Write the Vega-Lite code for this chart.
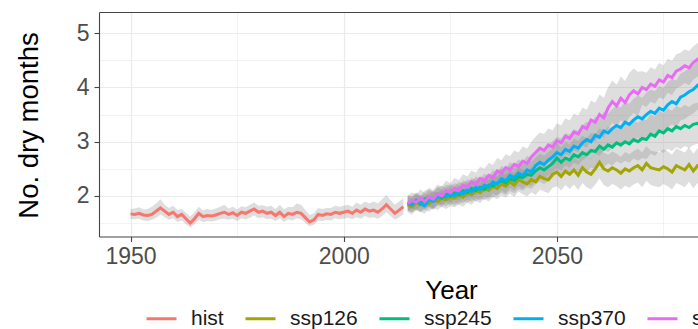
{
"$schema": "https://vega.github.io/schema/vega-lite/v6.json",
"width": 599, "height": 224.5,
"autosize": {"type": "none"},
"padding": {"left": 99, "top": 12, "right": 0, "bottom": 92.5},
"background": "white",
"config": {"view": {"stroke": null}, "font": "Liberation Sans"},
"datasets": {"d": [
{"s":"hist","t":1950,"v":1.67,"lo":1.58,"hi":1.76},{"s":"hist","t":1951,"v":1.66,"lo":1.57,"hi":1.77},{"s":"hist","t":1952,"v":1.68,"lo":1.58,"hi":1.79},{"s":"hist","t":1953,"v":1.65,"lo":1.55,"hi":1.75},{"s":"hist","t":1954,"v":1.64,"lo":1.54,"hi":1.76},{"s":"hist","t":1955,"v":1.66,"lo":1.56,"hi":1.80},{"s":"hist","t":1956,"v":1.72,"lo":1.60,"hi":1.86},{"s":"hist","t":1957,"v":1.78,"lo":1.66,"hi":1.94},{"s":"hist","t":1958,"v":1.72,"lo":1.61,"hi":1.84},{"s":"hist","t":1959,"v":1.66,"lo":1.56,"hi":1.78},
{"s":"hist","t":1960,"v":1.70,"lo":1.59,"hi":1.82},{"s":"hist","t":1961,"v":1.62,"lo":1.52,"hi":1.74},{"s":"hist","t":1962,"v":1.66,"lo":1.55,"hi":1.76},{"s":"hist","t":1963,"v":1.58,"lo":1.48,"hi":1.69},{"s":"hist","t":1964,"v":1.50,"lo":1.42,"hi":1.62},{"s":"hist","t":1965,"v":1.58,"lo":1.48,"hi":1.70},{"s":"hist","t":1966,"v":1.68,"lo":1.56,"hi":1.80},{"s":"hist","t":1967,"v":1.62,"lo":1.52,"hi":1.73},{"s":"hist","t":1968,"v":1.64,"lo":1.54,"hi":1.76},{"s":"hist","t":1969,"v":1.63,"lo":1.53,"hi":1.74},
{"s":"hist","t":1970,"v":1.65,"lo":1.55,"hi":1.77},{"s":"hist","t":1971,"v":1.68,"lo":1.57,"hi":1.80},{"s":"hist","t":1972,"v":1.70,"lo":1.58,"hi":1.84},{"s":"hist","t":1973,"v":1.66,"lo":1.56,"hi":1.77},{"s":"hist","t":1974,"v":1.69,"lo":1.58,"hi":1.80},{"s":"hist","t":1975,"v":1.64,"lo":1.54,"hi":1.75},{"s":"hist","t":1976,"v":1.70,"lo":1.59,"hi":1.81},{"s":"hist","t":1977,"v":1.68,"lo":1.57,"hi":1.79},{"s":"hist","t":1978,"v":1.72,"lo":1.60,"hi":1.84},{"s":"hist","t":1979,"v":1.76,"lo":1.64,"hi":1.88},
{"s":"hist","t":1980,"v":1.70,"lo":1.59,"hi":1.82},{"s":"hist","t":1981,"v":1.72,"lo":1.61,"hi":1.83},{"s":"hist","t":1982,"v":1.68,"lo":1.57,"hi":1.80},{"s":"hist","t":1983,"v":1.70,"lo":1.58,"hi":1.82},{"s":"hist","t":1984,"v":1.64,"lo":1.54,"hi":1.76},{"s":"hist","t":1985,"v":1.70,"lo":1.59,"hi":1.84},{"s":"hist","t":1986,"v":1.62,"lo":1.52,"hi":1.75},{"s":"hist","t":1987,"v":1.68,"lo":1.57,"hi":1.80},{"s":"hist","t":1988,"v":1.66,"lo":1.55,"hi":1.79},{"s":"hist","t":1989,"v":1.70,"lo":1.59,"hi":1.86},
{"s":"hist","t":1990,"v":1.68,"lo":1.57,"hi":1.84},{"s":"hist","t":1991,"v":1.60,"lo":1.50,"hi":1.74},{"s":"hist","t":1992,"v":1.52,"lo":1.44,"hi":1.65},{"s":"hist","t":1993,"v":1.56,"lo":1.47,"hi":1.68},{"s":"hist","t":1994,"v":1.66,"lo":1.55,"hi":1.78},{"s":"hist","t":1995,"v":1.64,"lo":1.54,"hi":1.76},{"s":"hist","t":1996,"v":1.67,"lo":1.56,"hi":1.78},{"s":"hist","t":1997,"v":1.66,"lo":1.55,"hi":1.78},{"s":"hist","t":1998,"v":1.70,"lo":1.59,"hi":1.82},{"s":"hist","t":1999,"v":1.68,"lo":1.57,"hi":1.80},
{"s":"hist","t":2000,"v":1.70,"lo":1.58,"hi":1.82},{"s":"hist","t":2001,"v":1.72,"lo":1.60,"hi":1.84},{"s":"hist","t":2002,"v":1.68,"lo":1.57,"hi":1.80},{"s":"hist","t":2003,"v":1.74,"lo":1.61,"hi":1.88},{"s":"hist","t":2004,"v":1.70,"lo":1.58,"hi":1.84},{"s":"hist","t":2005,"v":1.76,"lo":1.63,"hi":1.90},{"s":"hist","t":2006,"v":1.72,"lo":1.60,"hi":1.86},{"s":"hist","t":2007,"v":1.74,"lo":1.61,"hi":1.90},{"s":"hist","t":2008,"v":1.70,"lo":1.58,"hi":1.86},{"s":"hist","t":2009,"v":1.76,"lo":1.63,"hi":1.94},
{"s":"hist","t":2010,"v":1.84,"lo":1.70,"hi":2.02},{"s":"hist","t":2011,"v":1.76,"lo":1.63,"hi":1.92},{"s":"hist","t":2012,"v":1.68,"lo":1.56,"hi":1.84},{"s":"hist","t":2013,"v":1.74,"lo":1.61,"hi":1.90},{"s":"hist","t":2014,"v":1.80,"lo":1.66,"hi":1.96},

{"s":"ssp126","t":2015,"v":1.84,"lo":1.70,"hi":1.98},{"s":"ssp126","t":2016,"v":1.80,"lo":1.66,"hi":1.95},{"s":"ssp126","t":2017,"v":1.88,"lo":1.73,"hi":2.02},{"s":"ssp126","t":2018,"v":1.84,"lo":1.70,"hi":1.99},{"s":"ssp126","t":2019,"v":1.90,"lo":1.75,"hi":2.05},{"s":"ssp126","t":2020,"v":1.86,"lo":1.71,"hi":2.02},{"s":"ssp126","t":2021,"v":1.94,"lo":1.78,"hi":2.09},{"s":"ssp126","t":2022,"v":1.90,"lo":1.74,"hi":2.06},{"s":"ssp126","t":2023,"v":1.96,"lo":1.80,"hi":2.12},{"s":"ssp126","t":2024,"v":1.93,"lo":1.76,"hi":2.09},
{"s":"ssp126","t":2025,"v":1.98,"lo":1.81,"hi":2.15},{"s":"ssp126","t":2026,"v":1.96,"lo":1.79,"hi":2.13},{"s":"ssp126","t":2027,"v":2.02,"lo":1.84,"hi":2.19},{"s":"ssp126","t":2028,"v":1.98,"lo":1.80,"hi":2.16},{"s":"ssp126","t":2029,"v":2.06,"lo":1.88,"hi":2.24},{"s":"ssp126","t":2030,"v":2.02,"lo":1.84,"hi":2.20},{"s":"ssp126","t":2031,"v":2.10,"lo":1.91,"hi":2.28},{"s":"ssp126","t":2032,"v":2.06,"lo":1.87,"hi":2.25},{"s":"ssp126","t":2033,"v":2.14,"lo":1.95,"hi":2.33},{"s":"ssp126","t":2034,"v":2.10,"lo":1.90,"hi":2.30},
{"s":"ssp126","t":2035,"v":2.18,"lo":1.98,"hi":2.38},{"s":"ssp126","t":2036,"v":2.14,"lo":1.94,"hi":2.35},{"s":"ssp126","t":2037,"v":2.22,"lo":2.01,"hi":2.43},{"s":"ssp126","t":2038,"v":2.18,"lo":1.97,"hi":2.39},{"s":"ssp126","t":2039,"v":2.26,"lo":2.04,"hi":2.47},{"s":"ssp126","t":2040,"v":2.20,"lo":1.98,"hi":2.42},{"s":"ssp126","t":2041,"v":2.30,"lo":2.08,"hi":2.52},{"s":"ssp126","t":2042,"v":2.26,"lo":2.03,"hi":2.48},{"s":"ssp126","t":2043,"v":2.22,"lo":1.99,"hi":2.45},{"s":"ssp126","t":2044,"v":2.30,"lo":2.07,"hi":2.53},
{"s":"ssp126","t":2045,"v":2.26,"lo":2.02,"hi":2.49},{"s":"ssp126","t":2046,"v":2.36,"lo":2.12,"hi":2.60},{"s":"ssp126","t":2047,"v":2.32,"lo":2.08,"hi":2.56},{"s":"ssp126","t":2048,"v":2.30,"lo":2.05,"hi":2.55},{"s":"ssp126","t":2049,"v":2.40,"lo":2.15,"hi":2.65},{"s":"ssp126","t":2050,"v":2.44,"lo":2.18,"hi":2.70},{"s":"ssp126","t":2051,"v":2.36,"lo":2.10,"hi":2.62},{"s":"ssp126","t":2052,"v":2.46,"lo":2.20,"hi":2.72},{"s":"ssp126","t":2053,"v":2.40,"lo":2.13,"hi":2.67},{"s":"ssp126","t":2054,"v":2.48,"lo":2.21,"hi":2.75},
{"s":"ssp126","t":2055,"v":2.38,"lo":2.11,"hi":2.65},{"s":"ssp126","t":2056,"v":2.52,"lo":2.24,"hi":2.80},{"s":"ssp126","t":2057,"v":2.44,"lo":2.16,"hi":2.72},{"s":"ssp126","t":2058,"v":2.40,"lo":2.12,"hi":2.68},{"s":"ssp126","t":2059,"v":2.50,"lo":2.21,"hi":2.79},{"s":"ssp126","t":2060,"v":2.62,"lo":2.32,"hi":2.92},{"s":"ssp126","t":2061,"v":2.50,"lo":2.20,"hi":2.80},{"s":"ssp126","t":2062,"v":2.46,"lo":2.16,"hi":2.76},{"s":"ssp126","t":2063,"v":2.52,"lo":2.22,"hi":2.82},{"s":"ssp126","t":2064,"v":2.48,"lo":2.18,"hi":2.78},
{"s":"ssp126","t":2065,"v":2.42,"lo":2.12,"hi":2.72},{"s":"ssp126","t":2066,"v":2.50,"lo":2.19,"hi":2.81},{"s":"ssp126","t":2067,"v":2.46,"lo":2.15,"hi":2.77},{"s":"ssp126","t":2068,"v":2.52,"lo":2.21,"hi":2.83},{"s":"ssp126","t":2069,"v":2.56,"lo":2.25,"hi":2.87},{"s":"ssp126","t":2070,"v":2.48,"lo":2.16,"hi":2.80},{"s":"ssp126","t":2071,"v":2.60,"lo":2.28,"hi":2.92},{"s":"ssp126","t":2072,"v":2.52,"lo":2.20,"hi":2.84},{"s":"ssp126","t":2073,"v":2.50,"lo":2.18,"hi":2.82},{"s":"ssp126","t":2074,"v":2.48,"lo":2.16,"hi":2.80},
{"s":"ssp126","t":2075,"v":2.54,"lo":2.22,"hi":2.86},{"s":"ssp126","t":2076,"v":2.50,"lo":2.18,"hi":2.82},{"s":"ssp126","t":2077,"v":2.44,"lo":2.12,"hi":2.76},{"s":"ssp126","t":2078,"v":2.56,"lo":2.24,"hi":2.88},{"s":"ssp126","t":2079,"v":2.52,"lo":2.20,"hi":2.84},{"s":"ssp126","t":2080,"v":2.48,"lo":2.16,"hi":2.80},{"s":"ssp126","t":2081,"v":2.58,"lo":2.26,"hi":2.90},{"s":"ssp126","t":2082,"v":2.46,"lo":2.14,"hi":2.78},{"s":"ssp126","t":2083,"v":2.56,"lo":2.24,"hi":2.88},{"s":"ssp126","t":2084,"v":2.52,"lo":2.20,"hi":2.84},{"s":"ssp126","t":2085,"v":2.54,"lo":2.22,"hi":2.86},

{"s":"ssp245","t":2015,"v":1.86,"lo":1.72,"hi":2.00},{"s":"ssp245","t":2016,"v":1.84,"lo":1.70,"hi":1.99},{"s":"ssp245","t":2017,"v":1.90,"lo":1.75,"hi":2.05},{"s":"ssp245","t":2018,"v":1.86,"lo":1.71,"hi":2.01},{"s":"ssp245","t":2019,"v":1.94,"lo":1.79,"hi":2.10},{"s":"ssp245","t":2020,"v":1.96,"lo":1.80,"hi":2.12},{"s":"ssp245","t":2021,"v":1.92,"lo":1.76,"hi":2.08},{"s":"ssp245","t":2022,"v":2.00,"lo":1.84,"hi":2.17},{"s":"ssp245","t":2023,"v":1.96,"lo":1.79,"hi":2.13},{"s":"ssp245","t":2024,"v":2.04,"lo":1.87,"hi":2.21},
{"s":"ssp245","t":2025,"v":2.00,"lo":1.83,"hi":2.18},{"s":"ssp245","t":2026,"v":2.06,"lo":1.88,"hi":2.24},{"s":"ssp245","t":2027,"v":2.02,"lo":1.84,"hi":2.20},{"s":"ssp245","t":2028,"v":2.10,"lo":1.92,"hi":2.29},{"s":"ssp245","t":2029,"v":2.06,"lo":1.87,"hi":2.25},{"s":"ssp245","t":2030,"v":2.14,"lo":1.95,"hi":2.33},{"s":"ssp245","t":2031,"v":2.10,"lo":1.90,"hi":2.30},{"s":"ssp245","t":2032,"v":2.16,"lo":1.96,"hi":2.36},{"s":"ssp245","t":2033,"v":2.12,"lo":1.92,"hi":2.33},{"s":"ssp245","t":2034,"v":2.20,"lo":1.99,"hi":2.41},
{"s":"ssp245","t":2035,"v":2.18,"lo":1.97,"hi":2.39},{"s":"ssp245","t":2036,"v":2.24,"lo":2.02,"hi":2.46},{"s":"ssp245","t":2037,"v":2.28,"lo":2.06,"hi":2.50},{"s":"ssp245","t":2038,"v":2.24,"lo":2.02,"hi":2.47},{"s":"ssp245","t":2039,"v":2.32,"lo":2.09,"hi":2.55},{"s":"ssp245","t":2040,"v":2.28,"lo":2.05,"hi":2.51},{"s":"ssp245","t":2041,"v":2.36,"lo":2.12,"hi":2.60},{"s":"ssp245","t":2042,"v":2.34,"lo":2.10,"hi":2.58},{"s":"ssp245","t":2043,"v":2.40,"lo":2.16,"hi":2.65},{"s":"ssp245","t":2044,"v":2.38,"lo":2.13,"hi":2.63},
{"s":"ssp245","t":2045,"v":2.46,"lo":2.21,"hi":2.71},{"s":"ssp245","t":2046,"v":2.52,"lo":2.26,"hi":2.78},{"s":"ssp245","t":2047,"v":2.48,"lo":2.22,"hi":2.74},{"s":"ssp245","t":2048,"v":2.54,"lo":2.27,"hi":2.81},{"s":"ssp245","t":2049,"v":2.60,"lo":2.33,"hi":2.87},{"s":"ssp245","t":2050,"v":2.70,"lo":2.42,"hi":2.98},{"s":"ssp245","t":2051,"v":2.62,"lo":2.34,"hi":2.90},{"s":"ssp245","t":2052,"v":2.70,"lo":2.41,"hi":2.99},{"s":"ssp245","t":2053,"v":2.66,"lo":2.37,"hi":2.95},{"s":"ssp245","t":2054,"v":2.76,"lo":2.46,"hi":3.06},
{"s":"ssp245","t":2055,"v":2.72,"lo":2.42,"hi":3.02},{"s":"ssp245","t":2056,"v":2.80,"lo":2.49,"hi":3.11},{"s":"ssp245","t":2057,"v":2.76,"lo":2.45,"hi":3.07},{"s":"ssp245","t":2058,"v":2.84,"lo":2.52,"hi":3.16},{"s":"ssp245","t":2059,"v":2.82,"lo":2.50,"hi":3.14},{"s":"ssp245","t":2060,"v":2.92,"lo":2.59,"hi":3.25},{"s":"ssp245","t":2061,"v":2.86,"lo":2.53,"hi":3.19},{"s":"ssp245","t":2062,"v":2.94,"lo":2.60,"hi":3.28},{"s":"ssp245","t":2063,"v":2.90,"lo":2.56,"hi":3.24},{"s":"ssp245","t":2064,"v":2.98,"lo":2.64,"hi":3.32},
{"s":"ssp245","t":2065,"v":2.94,"lo":2.60,"hi":3.28},{"s":"ssp245","t":2066,"v":3.00,"lo":2.65,"hi":3.35},{"s":"ssp245","t":2067,"v":2.96,"lo":2.61,"hi":3.31},{"s":"ssp245","t":2068,"v":3.04,"lo":2.69,"hi":3.39},{"s":"ssp245","t":2069,"v":3.00,"lo":2.65,"hi":3.35},{"s":"ssp245","t":2070,"v":3.06,"lo":2.70,"hi":3.42},{"s":"ssp245","t":2071,"v":3.04,"lo":2.68,"hi":3.40},{"s":"ssp245","t":2072,"v":3.14,"lo":2.78,"hi":3.50},{"s":"ssp245","t":2073,"v":3.10,"lo":2.74,"hi":3.46},{"s":"ssp245","t":2074,"v":3.20,"lo":2.83,"hi":3.57},
{"s":"ssp245","t":2075,"v":3.16,"lo":2.79,"hi":3.53},{"s":"ssp245","t":2076,"v":3.24,"lo":2.87,"hi":3.61},{"s":"ssp245","t":2077,"v":3.20,"lo":2.83,"hi":3.57},{"s":"ssp245","t":2078,"v":3.28,"lo":2.90,"hi":3.66},{"s":"ssp245","t":2079,"v":3.24,"lo":2.86,"hi":3.62},{"s":"ssp245","t":2080,"v":3.30,"lo":2.92,"hi":3.68},{"s":"ssp245","t":2081,"v":3.26,"lo":2.88,"hi":3.64},{"s":"ssp245","t":2082,"v":3.32,"lo":2.94,"hi":3.70},{"s":"ssp245","t":2083,"v":3.34,"lo":2.96,"hi":3.72},{"s":"ssp245","t":2084,"v":3.30,"lo":2.92,"hi":3.68},{"s":"ssp245","t":2085,"v":3.34,"lo":2.96,"hi":3.72},

{"s":"ssp370","t":2015,"v":1.88,"lo":1.74,"hi":2.02},{"s":"ssp370","t":2016,"v":1.84,"lo":1.70,"hi":1.99},{"s":"ssp370","t":2017,"v":1.92,"lo":1.77,"hi":2.07},{"s":"ssp370","t":2018,"v":1.86,"lo":1.71,"hi":2.01},{"s":"ssp370","t":2019,"v":1.82,"lo":1.67,"hi":1.98},{"s":"ssp370","t":2020,"v":1.94,"lo":1.78,"hi":2.10},{"s":"ssp370","t":2021,"v":1.90,"lo":1.74,"hi":2.06},{"s":"ssp370","t":2022,"v":1.98,"lo":1.82,"hi":2.15},{"s":"ssp370","t":2023,"v":2.02,"lo":1.85,"hi":2.19},{"s":"ssp370","t":2024,"v":1.98,"lo":1.81,"hi":2.15},
{"s":"ssp370","t":2025,"v":2.04,"lo":1.87,"hi":2.22},{"s":"ssp370","t":2026,"v":2.00,"lo":1.82,"hi":2.18},{"s":"ssp370","t":2027,"v":2.08,"lo":1.90,"hi":2.26},{"s":"ssp370","t":2028,"v":2.04,"lo":1.86,"hi":2.23},{"s":"ssp370","t":2029,"v":2.12,"lo":1.93,"hi":2.31},{"s":"ssp370","t":2030,"v":2.08,"lo":1.89,"hi":2.27},{"s":"ssp370","t":2031,"v":2.16,"lo":1.96,"hi":2.36},{"s":"ssp370","t":2032,"v":2.12,"lo":1.92,"hi":2.32},{"s":"ssp370","t":2033,"v":2.20,"lo":2.00,"hi":2.41},{"s":"ssp370","t":2034,"v":2.16,"lo":1.95,"hi":2.37},
{"s":"ssp370","t":2035,"v":2.26,"lo":2.05,"hi":2.48},{"s":"ssp370","t":2036,"v":2.22,"lo":2.00,"hi":2.44},{"s":"ssp370","t":2037,"v":2.32,"lo":2.10,"hi":2.55},{"s":"ssp370","t":2038,"v":2.28,"lo":2.05,"hi":2.51},{"s":"ssp370","t":2039,"v":2.38,"lo":2.15,"hi":2.62},{"s":"ssp370","t":2040,"v":2.34,"lo":2.10,"hi":2.58},{"s":"ssp370","t":2041,"v":2.42,"lo":2.18,"hi":2.67},{"s":"ssp370","t":2042,"v":2.38,"lo":2.13,"hi":2.63},{"s":"ssp370","t":2043,"v":2.48,"lo":2.23,"hi":2.74},{"s":"ssp370","t":2044,"v":2.44,"lo":2.18,"hi":2.70},
{"s":"ssp370","t":2045,"v":2.56,"lo":2.30,"hi":2.83},{"s":"ssp370","t":2046,"v":2.62,"lo":2.35,"hi":2.89},{"s":"ssp370","t":2047,"v":2.58,"lo":2.31,"hi":2.86},{"s":"ssp370","t":2048,"v":2.66,"lo":2.38,"hi":2.94},{"s":"ssp370","t":2049,"v":2.72,"lo":2.44,"hi":3.01},{"s":"ssp370","t":2050,"v":2.80,"lo":2.51,"hi":3.09},{"s":"ssp370","t":2051,"v":2.76,"lo":2.47,"hi":3.06},{"s":"ssp370","t":2052,"v":2.86,"lo":2.56,"hi":3.16},{"s":"ssp370","t":2053,"v":2.82,"lo":2.52,"hi":3.13},{"s":"ssp370","t":2054,"v":2.92,"lo":2.61,"hi":3.23},
{"s":"ssp370","t":2055,"v":2.88,"lo":2.57,"hi":3.20},{"s":"ssp370","t":2056,"v":2.98,"lo":2.66,"hi":3.30},{"s":"ssp370","t":2057,"v":3.04,"lo":2.72,"hi":3.37},{"s":"ssp370","t":2058,"v":3.00,"lo":2.67,"hi":3.33},{"s":"ssp370","t":2059,"v":3.12,"lo":2.78,"hi":3.46},{"s":"ssp370","t":2060,"v":3.08,"lo":2.74,"hi":3.42},{"s":"ssp370","t":2061,"v":3.20,"lo":2.85,"hi":3.55},{"s":"ssp370","t":2062,"v":3.16,"lo":2.81,"hi":3.52},{"s":"ssp370","t":2063,"v":3.24,"lo":2.88,"hi":3.60},{"s":"ssp370","t":2064,"v":3.30,"lo":2.94,"hi":3.67},
{"s":"ssp370","t":2065,"v":3.26,"lo":2.89,"hi":3.63},{"s":"ssp370","t":2066,"v":3.36,"lo":2.98,"hi":3.74},{"s":"ssp370","t":2067,"v":3.32,"lo":2.94,"hi":3.70},{"s":"ssp370","t":2068,"v":3.40,"lo":3.02,"hi":3.79},{"s":"ssp370","t":2069,"v":3.46,"lo":3.07,"hi":3.85},{"s":"ssp370","t":2070,"v":3.42,"lo":3.03,"hi":3.81},{"s":"ssp370","t":2071,"v":3.50,"lo":3.10,"hi":3.90},{"s":"ssp370","t":2072,"v":3.56,"lo":3.16,"hi":3.96},{"s":"ssp370","t":2073,"v":3.52,"lo":3.12,"hi":3.93},{"s":"ssp370","t":2074,"v":3.62,"lo":3.21,"hi":4.03},
{"s":"ssp370","t":2075,"v":3.58,"lo":3.17,"hi":3.99},{"s":"ssp370","t":2076,"v":3.68,"lo":3.26,"hi":4.10},{"s":"ssp370","t":2077,"v":3.74,"lo":3.32,"hi":4.16},{"s":"ssp370","t":2078,"v":3.70,"lo":3.27,"hi":4.13},{"s":"ssp370","t":2079,"v":3.82,"lo":3.39,"hi":4.25},{"s":"ssp370","t":2080,"v":3.86,"lo":3.42,"hi":4.30},{"s":"ssp370","t":2081,"v":3.92,"lo":3.48,"hi":4.36},{"s":"ssp370","t":2082,"v":3.96,"lo":3.52,"hi":4.40},{"s":"ssp370","t":2083,"v":4.04,"lo":3.59,"hi":4.49},{"s":"ssp370","t":2084,"v":4.08,"lo":3.63,"hi":4.53},{"s":"ssp370","t":2085,"v":4.12,"lo":3.67,"hi":4.57},

{"s":"ssp585","t":2015,"v":1.86,"lo":1.72,"hi":2.00},{"s":"ssp585","t":2016,"v":1.92,"lo":1.77,"hi":2.07},{"s":"ssp585","t":2017,"v":1.88,"lo":1.73,"hi":2.03},{"s":"ssp585","t":2018,"v":1.96,"lo":1.80,"hi":2.12},{"s":"ssp585","t":2019,"v":1.90,"lo":1.74,"hi":2.06},{"s":"ssp585","t":2020,"v":1.98,"lo":1.82,"hi":2.15},{"s":"ssp585","t":2021,"v":1.94,"lo":1.77,"hi":2.11},{"s":"ssp585","t":2022,"v":2.04,"lo":1.87,"hi":2.21},{"s":"ssp585","t":2023,"v":2.00,"lo":1.83,"hi":2.18},{"s":"ssp585","t":2024,"v":2.10,"lo":1.92,"hi":2.28},
{"s":"ssp585","t":2025,"v":2.06,"lo":1.88,"hi":2.24},{"s":"ssp585","t":2026,"v":2.14,"lo":1.95,"hi":2.33},{"s":"ssp585","t":2027,"v":2.10,"lo":1.91,"hi":2.29},{"s":"ssp585","t":2028,"v":2.20,"lo":2.00,"hi":2.40},{"s":"ssp585","t":2029,"v":2.16,"lo":1.96,"hi":2.36},{"s":"ssp585","t":2030,"v":2.26,"lo":2.05,"hi":2.47},{"s":"ssp585","t":2031,"v":2.22,"lo":2.01,"hi":2.43},{"s":"ssp585","t":2032,"v":2.32,"lo":2.10,"hi":2.54},{"s":"ssp585","t":2033,"v":2.28,"lo":2.06,"hi":2.50},{"s":"ssp585","t":2034,"v":2.38,"lo":2.15,"hi":2.61},
{"s":"ssp585","t":2035,"v":2.34,"lo":2.11,"hi":2.57},{"s":"ssp585","t":2036,"v":2.46,"lo":2.22,"hi":2.70},{"s":"ssp585","t":2037,"v":2.42,"lo":2.18,"hi":2.66},{"s":"ssp585","t":2038,"v":2.52,"lo":2.27,"hi":2.77},{"s":"ssp585","t":2039,"v":2.48,"lo":2.23,"hi":2.73},{"s":"ssp585","t":2040,"v":2.58,"lo":2.32,"hi":2.84},{"s":"ssp585","t":2041,"v":2.54,"lo":2.28,"hi":2.80},{"s":"ssp585","t":2042,"v":2.64,"lo":2.37,"hi":2.91},{"s":"ssp585","t":2043,"v":2.60,"lo":2.33,"hi":2.87},{"s":"ssp585","t":2044,"v":2.72,"lo":2.44,"hi":3.00},
{"s":"ssp585","t":2045,"v":2.80,"lo":2.51,"hi":3.09},{"s":"ssp585","t":2046,"v":2.88,"lo":2.59,"hi":3.17},{"s":"ssp585","t":2047,"v":2.84,"lo":2.54,"hi":3.14},{"s":"ssp585","t":2048,"v":2.94,"lo":2.63,"hi":3.25},{"s":"ssp585","t":2049,"v":2.90,"lo":2.59,"hi":3.21},{"s":"ssp585","t":2050,"v":3.02,"lo":2.70,"hi":3.34},{"s":"ssp585","t":2051,"v":2.98,"lo":2.66,"hi":3.30},{"s":"ssp585","t":2052,"v":3.10,"lo":2.77,"hi":3.43},{"s":"ssp585","t":2053,"v":3.06,"lo":2.73,"hi":3.39},{"s":"ssp585","t":2054,"v":3.18,"lo":2.84,"hi":3.52},
{"s":"ssp585","t":2055,"v":3.14,"lo":2.80,"hi":3.48},{"s":"ssp585","t":2056,"v":3.28,"lo":2.93,"hi":3.63},{"s":"ssp585","t":2057,"v":3.24,"lo":2.89,"hi":3.59},{"s":"ssp585","t":2058,"v":3.40,"lo":3.04,"hi":3.76},{"s":"ssp585","t":2059,"v":3.36,"lo":3.00,"hi":3.72},{"s":"ssp585","t":2060,"v":3.50,"lo":3.13,"hi":3.87},{"s":"ssp585","t":2061,"v":3.44,"lo":3.07,"hi":3.81},{"s":"ssp585","t":2062,"v":3.62,"lo":3.24,"hi":4.00},{"s":"ssp585","t":2063,"v":3.74,"lo":3.35,"hi":4.13},{"s":"ssp585","t":2064,"v":3.66,"lo":3.27,"hi":4.05},
{"s":"ssp585","t":2065,"v":3.80,"lo":3.40,"hi":4.20},{"s":"ssp585","t":2066,"v":3.72,"lo":3.32,"hi":4.12},{"s":"ssp585","t":2067,"v":3.86,"lo":3.45,"hi":4.27},{"s":"ssp585","t":2068,"v":3.94,"lo":3.53,"hi":4.35},{"s":"ssp585","t":2069,"v":3.88,"lo":3.47,"hi":4.29},{"s":"ssp585","t":2070,"v":4.00,"lo":3.68,"hi":4.30},{"s":"ssp585","t":2071,"v":3.96,"lo":3.64,"hi":4.27},{"s":"ssp585","t":2072,"v":4.06,"lo":3.74,"hi":4.37},{"s":"ssp585","t":2073,"v":4.02,"lo":3.70,"hi":4.33},{"s":"ssp585","t":2074,"v":4.14,"lo":3.82,"hi":4.45},
{"s":"ssp585","t":2075,"v":4.10,"lo":3.78,"hi":4.41},{"s":"ssp585","t":2076,"v":4.22,"lo":3.90,"hi":4.53},{"s":"ssp585","t":2077,"v":4.18,"lo":3.86,"hi":4.49},{"s":"ssp585","t":2078,"v":4.30,"lo":3.98,"hi":4.61},{"s":"ssp585","t":2079,"v":4.34,"lo":4.02,"hi":4.64},{"s":"ssp585","t":2080,"v":4.40,"lo":4.08,"hi":4.70},{"s":"ssp585","t":2081,"v":4.36,"lo":4.04,"hi":4.67},{"s":"ssp585","t":2082,"v":4.46,"lo":4.14,"hi":4.76},{"s":"ssp585","t":2083,"v":4.52,"lo":4.20,"hi":4.82},{"s":"ssp585","t":2084,"v":4.56,"lo":4.24,"hi":4.86},{"s":"ssp585","t":2085,"v":4.60,"lo":4.28,"hi":4.90}
]},
"data": {"name": "d"},
"resolve": {"axis": {"x": "independent", "y": "independent"}},
"layer": [
  {
    "mark": {"type": "area", "color": "#7f7f7f", "opacity": 0.26, "clip": true},
    "encoding": {
      "x": {"field": "t", "type": "quantitative",
        "scale": {"domain": [1942.6, 2083.1], "nice": false, "zero": false},
        "axis": {"values": [1950, 2000, 2050], "format": "d", "labelFontSize": 23, "labelColor": "#4d4d4d", "labelPadding": 4, "tickSize": 5, "tickColor": "#444", "tickWidth": 1.1, "domainColor": "#444", "domainWidth": 1.1, "grid": true, "gridColor": "#ebebeb", "gridWidth": 1.2, "title": "Year", "titleFontSize": 26, "titleFontWeight": "normal", "titleColor": "#000", "titleX": 352, "titleY": 62, "titleBaseline": "alphabetic", "titleAnchor": "middle"}},
      "y": {"field": "lo", "type": "quantitative",
        "scale": {"domain": [1.253, 5.39], "nice": false, "zero": false},
        "axis": {"values": [2, 3, 4, 5], "labelFontSize": 23, "labelColor": "#4d4d4d", "labelPadding": 5, "tickSize": 5, "tickColor": "#444", "tickWidth": 1.1, "domainColor": "#444", "domainWidth": 1.1, "grid": true, "gridColor": "#ebebeb", "gridWidth": 1.2, "title": "No. dry months", "titleFontSize": 27.5, "titleFontWeight": "normal", "titleColor": "#000", "titleX": -56, "titleY": 113, "titleBaseline": "bottom", "titleAngle": -90, "titleAnchor": "middle"}},
      "y2": {"field": "hi"},
      "detail": {"field": "s"}
    }
  },
  {
    "mark": {"type": "line", "strokeWidth": 3, "clip": true},
    "encoding": {
      "x": {"field": "t", "type": "quantitative", "axis": null},
      "y": {"field": "v", "type": "quantitative", "axis": null},
      "color": {"field": "s", "type": "nominal",
        "scale": {"domain": ["hist", "ssp126", "ssp245", "ssp370", "ssp585"], "range": ["#F8766D", "#A3A500", "#00BF7D", "#00B0F6", "#E76BF3"]},
        "legend": {"orient": "none", "legendX": 46, "legendY": 290, "direction": "horizontal", "title": null, "symbolType": "stroke", "symbolSize": 900, "symbolStrokeWidth": 3, "labelFontSize": 21, "labelColor": "#1a1a1a", "labelOffset": 13, "columnPadding": 15, "padding": 0}}
    }
  },
  {
    "mark": {"type": "point", "opacity": 0, "clip": true},
    "encoding": {
      "x": {"field": "t", "type": "quantitative",
        "axis": {"orient": "top", "values": [1975, 2025, 2075], "labels": false, "ticks": false, "domain": true, "domainColor": "#444", "domainWidth": 1.1, "grid": true, "gridColor": "#ebebeb", "gridWidth": 0.6, "title": null}},
      "y": {"field": "v", "type": "quantitative",
        "axis": {"orient": "right", "values": [1.5, 2.5, 3.5, 4.5], "labels": false, "ticks": false, "domain": false, "grid": true, "gridColor": "#ebebeb", "gridWidth": 0.6, "title": null}}
    }
  }
]
}
